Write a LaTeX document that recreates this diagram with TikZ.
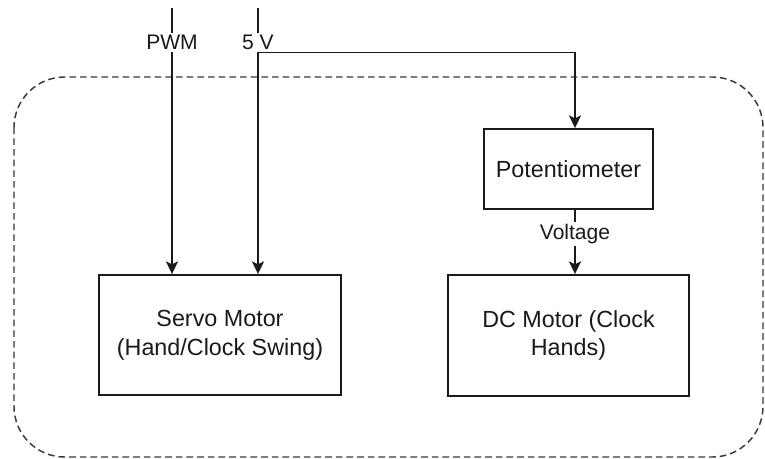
\documentclass[tikz,border=0pt]{standalone}
\usepackage{fontspec}
\setmainfont{Liberation Sans}
\usetikzlibrary{arrows.meta}
\definecolor{ink}{HTML}{1A1A1A}
\definecolor{dashc}{HTML}{3A3A3A}
\tikzset{
  blockbox/.style={draw=ink, line width=1.4pt, align=center, inner sep=0pt,
    font=\fontsize{17.5}{21.5}\selectfont, text=ink},
  arr/.style={draw=ink, line width=1.4pt, -{Stealth[length=9.5pt,width=9pt,inset=2.2pt]}},
  lbl/.style={fill=white, inner sep=1.5pt, font=\fontsize{15.8}{18}\selectfont, text=ink},
  container/.style={draw=dashc, line width=1.1pt, dash pattern=on 5pt off 3pt, rounded corners=38pt}
}
\begin{document}
\begin{tikzpicture}[x=0.75pt,y=-0.75pt]
\useasboundingbox (0,0) rectangle (765,458);
\fill[white] (0,0) rectangle (765,458);
% container
\draw[container] (14,77) rectangle (763,457);
% boxes
\node[blockbox, minimum width=181.5pt, minimum height=90pt] (servo) at (220,335) {Servo Motor\\(Hand/Clock Swing)};
\node[blockbox, minimum width=126.75pt, minimum height=60pt] (pot) at (568.5,169) {Potentiometer};
\node[blockbox, minimum width=180.75pt, minimum height=90.75pt] (dc) at (568.5,335.5) {DC Motor (Clock\\Hands)};
% free ends
\coordinate (pwmtop) at (172,8);
\coordinate (vtop) at (258,8);
\coordinate (j) at (258,52.5);
\coordinate (c575) at (575,0);
% connectors
\draw[arr] (pwmtop) -- node[lbl, pos=0.13] {PWM} (servo.north -| pwmtop);
\draw[arr] (vtop) -- node[lbl, pos=0.13] {5 V} (servo.north -| vtop);
\draw[arr] (j) -| (pot.north -| c575);
\draw[arr] (pot.south -| c575) -- node[lbl, pos=0.38] {Voltage} (dc.north -| c575);
\end{tikzpicture}
\end{document}
